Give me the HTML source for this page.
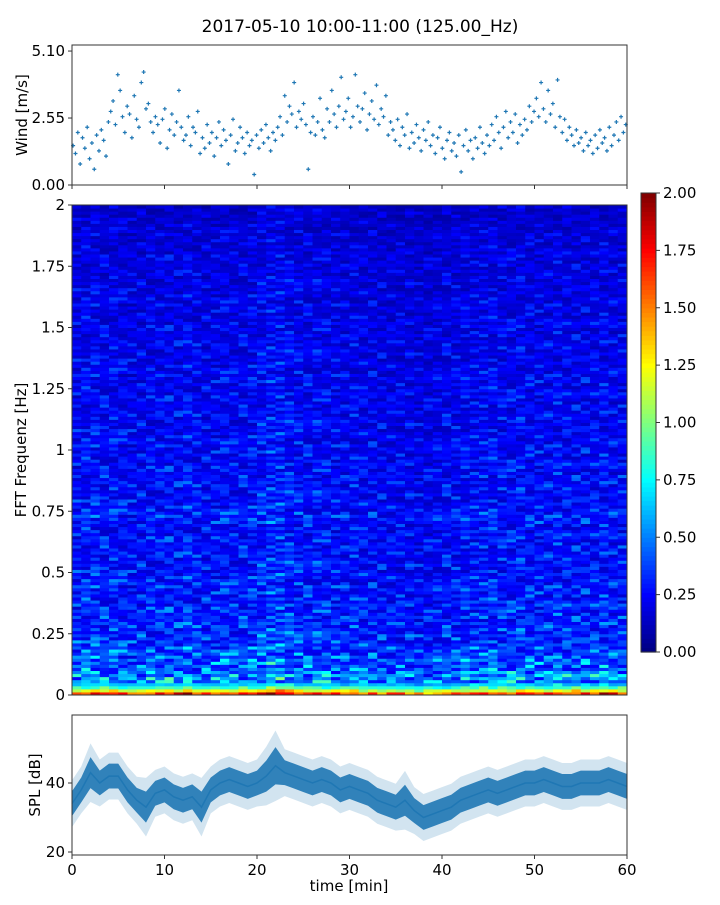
<!DOCTYPE html>
<html><head><meta charset="utf-8"><style>
body{margin:0;background:#fff;}
svg text{font-family:"DejaVu Sans","Liberation Sans",sans-serif;fill:#000;}
</style></head><body>
<svg id="c" width="720" height="900" xmlns="http://www.w3.org/2000/svg"></svg>
<script>
// ---------- data ----------
const windVals=[1.5,1.2,2.0,0.8,1.8,1.4,2.2,1.0,1.6,0.6,1.9,1.3,2.1,1.7,1.1,2.4,
2.8,3.2,2.3,4.2,3.6,2.6,2.0,3.0,2.7,1.8,3.4,2.5,2.2,3.9,4.3,2.9,3.1,2.4,2.0,2.6,
2.3,1.6,2.5,2.9,1.4,2.1,2.7,1.9,2.4,3.6,2.2,1.7,1.9,2.6,1.5,2.2,2.0,2.8,1.2,1.8,
1.4,2.3,1.6,2.0,1.1,1.8,2.4,1.5,2.1,1.7,0.8,1.9,2.5,1.3,1.6,2.2,1.8,1.2,2.0,1.5,
1.7,0.4,1.9,1.4,2.1,1.6,2.3,1.8,1.3,2.0,1.7,2.2,2.6,1.9,3.4,2.4,3.0,2.7,3.9,2.2,
2.8,2.5,3.1,2.3,0.6,2.0,2.6,1.9,2.4,3.3,2.1,1.8,2.9,2.4,3.6,2.7,2.2,3.0,4.1,2.5,
2.8,3.3,2.2,2.6,4.2,3.0,2.4,2.9,3.5,2.1,2.7,3.2,2.5,3.8,2.3,2.9,2.6,3.4,1.9,2.4,
2.1,1.7,2.5,1.5,2.2,1.9,2.7,1.4,2.0,1.6,2.3,1.8,1.3,2.1,1.7,2.4,1.5,1.9,1.2,1.8,
2.2,1.4,1.0,1.7,2.0,1.3,1.6,1.1,1.9,0.5,1.5,2.1,1.3,1.7,1.0,1.8,1.4,2.2,1.6,1.2,
1.9,1.5,2.3,1.7,2.6,2.0,1.4,2.2,2.8,1.8,2.4,2.0,2.7,1.6,2.3,1.9,2.5,2.1,3.0,2.4,
2.8,3.3,2.6,3.9,2.9,2.4,3.6,2.7,3.1,2.2,4.0,2.6,2.0,2.5,1.7,2.2,1.9,1.5,2.1,1.6,
1.8,1.3,2.0,1.5,1.7,1.2,1.9,1.4,2.1,1.6,1.8,1.3,2.2,1.5,1.9,2.4,1.7,2.6,2.0,2.3];
const splMean=[34,38,43,40,42,42,38,35,33,37,38,36,35,36,33,38,40,41,40,39,40,42,45,43,42,41,40,41,40,38,39,38,37,35,34,33,35,32,30,31,32,33,35,36,37,38,37,38,39,40,40,41,40,39,39,40,40,40,41,40,39];
const splSpread=[4,4,5,4,4,4,4,4,5,4,4,4,4,4,5,4,4,4,4,4,4,5,6,4,4,4,4,4,4,4,4,4,4,4,4,4,5,4,4,4,4,4,4,4,4,4,4,4,4,4,4,4,4,4,4,4,4,4,4,4,4];
const freqProfile=[1.1,0.5,0.42,0.37,0.34,0.32,0.31,0.3,0.29,0.28,0.28,0.27,0.27,0.26,0.29,0.27,0.26,0.26,0.25,0.25,0.24,0.24,0.24,0.23,0.23,0.23,0.22,0.22,0.22,0.21,0.21,0.2,0.2,0.2,0.19,0.19,0.18,0.17,0.16,0.15];
const lowBinProfile=[1.6,1.2,0.85,0.65];
const timeProfile=[1.0,1.05,1.1,1.0,1.05,1.0,0.95,0.95,1.0,1.0,1.05,1.0,1.1,1.0,0.95,1.0,1.05,1.0,1.0,1.05,1.1,1.2,1.2,1.1,1.05,1.0,1.05,1.0,1.0,0.95,1.0,0.95,0.95,0.9,0.9,0.9,0.9,0.85,0.85,0.9,0.95,0.95,1.0,1.0,1.05,1.05,1.0,1.0,1.05,1.0,1.0,1.0,1.05,1.0,1.0,1.0,1.0,1.05,1.0,1.0];
const rowTexture=[1.0,0.65,1.4,0.8,1.15,0.5,1.7,1.0,0.75,1.25,0.6,1.1,1.5,0.85,0.55,1.2,0.95,1.8,0.7,1.1,0.8,1.3,0.9];
const cbTicks=["0.00","0.25","0.50","0.75","1.00","1.25","1.50","1.75","2.00"];
const freqTicks=["0","0.25","0.5","0.75","1","1.25","1.5","1.75","2"];
const windTicks=["0.00","2.55","5.10"];
const splTicks=[20,40];
const timeTicks=[0,10,20,30,40,50,60];
// ---------- helpers ----------
const svg=document.getElementById('c');const NS="http://www.w3.org/2000/svg";
function el(t,a,p){const e=document.createElementNS(NS,t);for(const k in a)e.setAttribute(k,a[k]);(p||svg).appendChild(e);return e;}
function txt(s,x,y,anchor,size,g){const t=el('text',{x:x,y:y,'text-anchor':anchor,'font-size':size},g);t.textContent=s;return t;}
const X0=72,X1=627;const xs=m=>X0+(X1-X0)*m/60;
function jet(v){v=Math.max(0,Math.min(1,v));const r=Math.max(0,Math.min(1,1.5-Math.abs(4*v-3))),g=Math.max(0,Math.min(1,1.5-Math.abs(4*v-2))),b=Math.max(0,Math.min(1,1.5-Math.abs(4*v-1)));return `rgb(${r*255|0},${g*255|0},${b*255|0})`;}
// title
let t=txt("2017-05-10 10:00-11:00 (125.00_Hz)",360,32,'middle',17);

// ---------- wind panel ----------
const wy=v=>185-140*v/5.33;
const gw=el('g',{});
windVals.forEach((v,i)=>{const x=xs(i*60/windVals.length+0.12),y=wy(v);
 const m=el('path',{d:`M${x-2},${y}h4M${x},${y-2}v4`,stroke:'#1f77b4','stroke-width':1.2},gw);
 });
el('rect',{x:X0,y:45,width:X1-X0,height:140,fill:'none',stroke:'#333'},gw);
windTicks.forEach(s=>{const y=wy(parseFloat(s));el('line',{x1:X0-4,x2:X0,y1:y,y2:y,stroke:'#333'},gw);txt(s,X0-7,y+5,'end',15,gw);});
timeTicks.forEach(m=>el('line',{x1:xs(m),x2:xs(m),y1:185,y2:189,stroke:'#333'},gw));
t=txt("Wind [m/s]",27,115,'middle',15,gw);t.setAttribute('transform','rotate(-90 27 115)');

// ---------- spectrogram ----------
const ST=205,SB=695;const fy=f=>SB-(SB-ST)*f/2;
const gs=el('g',{});
const nr=freqProfile.length,nc=timeProfile.length,sub=4;
for(let c=0;c<nc;c++)for(let r=0;r<nr;r++)for(let k=0;k<sub;k++){
 const j=r*sub+k;
 const tex=rowTexture[(j*((c%22)+1)+c*c)%rowTexture.length];
 const v=r<1?lowBinProfile[k]*timeProfile[c]*(0.75+0.25*tex):freqProfile[r]*timeProfile[c]*tex;
 const f0=(r+k/sub)*2/nr,f1=(r+(k+1)/sub)*2/nr;
 const cell=el('rect',{x:xs(c),y:fy(f1),width:xs(c+1)-xs(c)+0.5,height:fy(f0)-fy(f1)+0.5,fill:jet(v/2)},gs);
 }
el('rect',{x:X0,y:ST,width:X1-X0,height:SB-ST,fill:'none',stroke:'#333'},gs);
freqTicks.forEach(s=>{const y=fy(parseFloat(s));el('line',{x1:X0-4,x2:X0,y1:y,y2:y,stroke:'#333'},gs);txt(s,X0-7,y+5,'end',15,gs);});
t=txt("FFT Frequenz [Hz]",26,450,'middle',15,gs);t.setAttribute('transform','rotate(-90 26 450)');

// colorbar
const gc=el('g',{});
const CT=193,CB=652;
for(let i=0;i<100;i++){el('rect',{x:641,y:CB-(CB-CT)*(i+1)/100,width:15,height:(CB-CT)/100+0.6,fill:jet((i+0.5)/100)},gc);}
el('rect',{x:641,y:CT,width:15,height:CB-CT,fill:'none',stroke:'#333'},gc);
cbTicks.forEach(s=>{const y=CB-(CB-CT)*parseFloat(s)/2;el('line',{x1:656,x2:660,y1:y,y2:y,stroke:'#333'},gc);txt(s,663,y+5,'start',15,gc);});
// ---------- SPL ----------
const PT=715,PB=855;const py=v=>783-(v-40)*3.45;
const gp=el('g',{});
function band(mult,op,name){let up=[],dn=[];splMean.forEach((v,i)=>{up.push(`${xs(i)},${py(v+splSpread[i]*mult)}`);dn.unshift(`${xs(i)},${py(v-splSpread[i]*mult)}`);});
 const p=el('polygon',{points:up.concat(dn).join(' '),fill:'#1f77b4','fill-opacity':op},gp);}
band(1.7,0.2,'spl-outer-band');band(0.9,0.9,'spl-band');
const ln=el('polyline',{points:splMean.map((v,i)=>`${xs(i)},${py(v)}`).join(' '),fill:'none',stroke:'#1f77b4','stroke-width':1.5},gp);

el('rect',{x:X0,y:PT,width:X1-X0,height:PB-PT,fill:'none',stroke:'#333'},gp);
splTicks.forEach(v=>{const y=py(v);el('line',{x1:X0-4,x2:X0,y1:y,y2:y,stroke:'#333'},gp);txt(String(v),X0-7,y+5,'end',15,gp);});
timeTicks.forEach(m=>{el('line',{x1:xs(m),x2:xs(m),y1:PB,y2:PB+4,stroke:'#333'},gp);txt(String(m),xs(m),PB+20,'middle',15,gp);});
t=txt("SPL [dB]",40,785,'middle',15,gp);t.setAttribute('transform','rotate(-90 40 785)');

t=txt("time [min]",349,891,'middle',15,gp);

</script>
</body></html>
